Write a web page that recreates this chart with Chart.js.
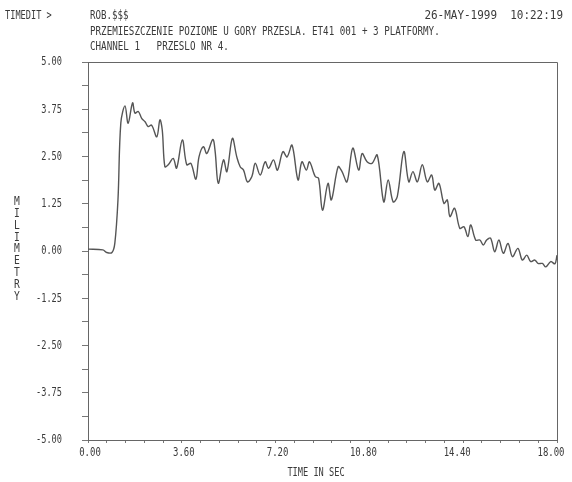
<!DOCTYPE html>
<html>
<head>
<meta charset="utf-8">
<script src="https://cdn.jsdelivr.net/npm/chart.js@4/dist/chart.umd.min.js"></script>
<style>
  html, body { margin: 0; padding: 0; background: #fff; }
  canvas { display: block; }
</style>
</head>
<body>
<canvas id="plot" width="572" height="482"></canvas>
<script>
// czas w sekundach i przemieszczenie w mm
const timeSec = [
    0.00, 0.57, 0.72, 0.92, 1.03, 1.15, 1.26, 1.42, 1.54, 1.71,
    1.80, 1.93, 2.06, 2.19, 2.31, 2.44, 2.64, 2.76, 2.85, 2.95,
    3.08, 3.27, 3.40, 3.62, 3.79, 3.95, 4.14, 4.26, 4.43, 4.56,
    4.79, 4.88, 5.00, 5.20, 5.33, 5.54, 5.71, 5.84, 5.97, 6.12,
    6.29, 6.42, 6.61, 6.80, 6.93, 7.12, 7.27, 7.48, 7.64, 7.83,
    8.06, 8.21, 8.38, 8.50, 8.72, 8.85, 9.00, 9.21, 9.34, 9.60,
    9.75, 9.94, 10.16, 10.39, 10.52, 10.71, 10.90, 11.10, 11.35, 11.52,
    11.71, 11.87, 12.12, 12.31, 12.47, 12.64, 12.83, 13.02, 13.19, 13.31,
    13.47, 13.66, 13.79, 13.89, 14.07, 14.27, 14.43, 14.58, 14.69, 14.88,
    15.04, 15.17, 15.30, 15.45, 15.61, 15.77, 15.94, 16.12, 16.29, 16.50,
    16.67, 16.84, 16.99, 17.15, 17.27, 17.44, 17.57, 17.76, 17.92, 18.00
];
const milimetry = [
    0.05, 0.03, -0.04, -0.04, 0.21, 1.35, 3.39, 3.84, 3.38, 3.92,
    3.65, 3.69, 3.51, 3.42, 3.29, 3.33, 3.02, 3.47, 3.20, 2.23,
    2.28, 2.45, 2.19, 2.94, 2.28, 2.32, 1.90, 2.49, 2.76, 2.58,
    2.95, 2.63, 1.79, 2.41, 2.10, 2.98, 2.49, 2.23, 2.14, 1.83,
    1.97, 2.32, 2.01, 2.36, 2.19, 2.41, 2.14, 2.63, 2.49, 2.80,
    1.88, 2.36, 2.14, 2.36, 1.97, 1.92, 1.08, 1.79, 1.35, 2.23,
    2.10, 1.83, 2.72, 2.14, 2.58, 2.36, 2.32, 2.54, 1.30, 1.88,
    1.30, 1.44, 2.63, 1.83, 2.10, 1.83, 2.28, 1.83, 2.01, 1.61,
    1.79, 1.26, 1.35, 0.91, 1.13, 0.60, 0.64, 0.38, 0.69, 0.29,
    0.29, 0.16, 0.29, 0.34, -0.02, 0.29, -0.06, 0.20, -0.15, 0.07,
    -0.24, -0.11, -0.28, -0.24, -0.33, -0.33, -0.42, -0.28, -0.34, -0.11
];

const xTickLabels = ['0.00', '3.60', '7.20', '10.80', '14.40', '18.00'];
const yTickLabels = ['5.00', '3.75', '2.50', '1.25', '0.00', '-1.25', '-2.50', '-3.75', '-5.00'];

const headerLeft = 'TIMEDIT >';
const headerFile = 'ROB.$$$';
const headerDate = '26-MAY-1999  10:22:19';
const titleLine1 = 'PRZEMIESZCZENIE POZIOME U GORY PRZESLA. ET41 001 + 3 PLATFORMY.';
const titleLine2 = 'CHANNEL 1   PRZESLO NR 4.';
const xTitle = 'TIME IN SEC';
const yTitle = 'MILIMETRY';

const INK = '#3a3a3a';

// tekst "ploterowy": mono font sciśnięty w poziomie
function plotText(ctx, text, x, y, size, charW, align) {
    const sx = charW / (size * 0.602);
    const w = text.length * charW;
    let left = x;
    if (align === 'right') left = x - w;
    if (align === 'center') left = x - w / 2;
    ctx.save();
    ctx.translate(left, y);
    ctx.scale(sx, 1);
    ctx.font = size + 'px "DejaVu Sans Mono"';
    ctx.fillStyle = INK;
    ctx.textAlign = 'left';
    ctx.textBaseline = 'middle';
    ctx.fillText(text, 0, 0);
    ctx.restore();
}

const plotterLabels = {
    id: 'plotterLabels',
    afterDraw(chart) {
        const ctx = chart.ctx;
        const area = chart.chartArea;
        const xs = chart.scales.x;
        const ys = chart.scales.y;

        // ramka: gorna i prawa krawedz
        ctx.save();
        ctx.strokeStyle = '#666';
        ctx.lineWidth = 1;
        ctx.beginPath();
        ctx.moveTo(area.left, area.top + 0.5);
        ctx.lineTo(area.right + 0.5, area.top + 0.5);
        ctx.lineTo(area.right + 0.5, area.bottom);
        ctx.stroke();
        ctx.restore();

        // naglowek
        plotText(ctx, headerLeft, 5, 16, 12, 5.2, 'left');
        plotText(ctx, headerFile, 90, 16, 12, 5.5, 'left');
        plotText(ctx, headerDate, 563, 16, 12, 6.6, 'right');
        plotText(ctx, titleLine1, 90, 32, 12, 5.55, 'left');
        plotText(ctx, titleLine2, 90, 47, 12, 5.55, 'left');

        // opisy osi Y
        yTickLabels.forEach(lbl => {
            const py = ys.getPixelForValue(parseFloat(lbl));
            plotText(ctx, lbl, 62, py, 13, 5.2, 'right');
        });

        // opisy osi X (dluzsze etykiety lekko w lewo, jak na ploterze)
        xTickLabels.forEach(lbl => {
            const px = xs.getPixelForValue(parseFloat(lbl));
            const shift = lbl.length > 4 ? -6 : 2;
            plotText(ctx, lbl, px + shift, 453, 13, 5.4, 'center');
        });

        plotText(ctx, xTitle, 316, 473, 12, 5.2, 'center');

        // tytul osi Y, litery jedna pod druga
        for (let i = 0; i < yTitle.length; i++) {
            plotText(ctx, yTitle[i], 17, 202 + i * 11.8, 12, 5.8, 'center');
        }
    }
};

document.addEventListener('DOMContentLoaded', () => {
    const ctx = document.getElementById('plot').getContext('2d');

    const points = timeSec.map((t, i) => ({ x: t, y: milimetry[i] }));

    new Chart(ctx, {
        type: 'line',
        data: {
            datasets: [{
                data: points,
                borderColor: '#555',
                borderWidth: 1.4,
                pointRadius: 0,
                tension: 0.35,
                fill: false
            }]
        },
        options: {
            responsive: false,
            devicePixelRatio: 1,
            animation: false,
            layout: {
                padding: { left: 0, right: 15, top: 62, bottom: 0 }
            },
            plugins: {
                legend: { display: false },
                tooltip: { enabled: false }
            },
            scales: {
                x: {
                    type: 'linear',
                    min: 0,
                    max: 18,
                    afterFit: scale => { scale.height = 42; },
                    ticks: { display: false, stepSize: 0.72 },
                    grid: {
                        drawOnChartArea: false,
                        color: '#777',
                        tickLength: 3
                    },
                    border: { color: '#666', width: 1 }
                },
                y: {
                    min: -5,
                    max: 5,
                    afterFit: scale => { scale.width = 88; },
                    ticks: { display: false, stepSize: 0.625 },
                    grid: {
                        drawOnChartArea: false,
                        color: '#777',
                        tickLength: 6
                    },
                    border: { color: '#666', width: 1 }
                }
            }
        },
        plugins: [plotterLabels]
    });
});
</script>
</body>
</html>
